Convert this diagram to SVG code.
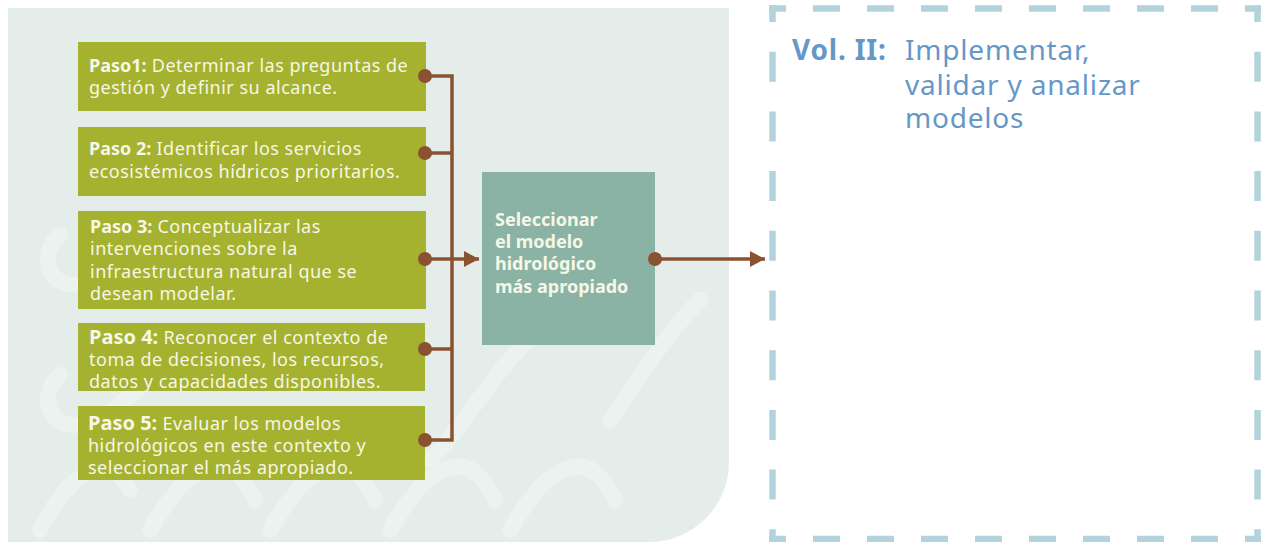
<svg xmlns="http://www.w3.org/2000/svg" width="1261" height="542" viewBox="0 0 1261 542">
  <style>
    .step { fill: #a4b22f; }
    .txt { font-family: "Noto Sans", "Open Sans", sans-serif; font-size: 18px; letter-spacing: 0.5px; fill: #f6f7e6; }
    .b { font-weight: bold; letter-spacing: 0; }
    .big { font-size: 20px; }
    .wire { stroke: #8a5230; stroke-width: 3.5; fill: none; }
    .dot { fill: #8a5230; }
    .dash { stroke: #b3d3dc; stroke-width: 6.5; fill: none; }
    .vol { font-family: "Noto Sans", "Open Sans", sans-serif; fill: #6598c6; font-size: 28px; letter-spacing: 0.8px; }
    .swirl { stroke: #ffffff; stroke-opacity: 0.3; stroke-width: 16; stroke-linecap: round; fill: none; }
  </style>
  <defs>
    <marker id="arrow" markerWidth="16" markerHeight="16" refX="15" refY="8" orient="auto" markerUnits="userSpaceOnUse">
      <path d="M0,0 L15,8 L0,16 Z" fill="#8a5230"/>
    </marker>
    <clipPath id="panelClip">
      <path d="M8,8 H729 V462 A80,80 0 0 1 649,542 H8 Z"/>
    </clipPath>
  </defs>

  <!-- background panel with decorative curls -->
  <g id="panel">
    <path d="M8,8 H729 V462 A80,80 0 0 1 649,542 H8 Z" fill="#e4edea"/>
    <g clip-path="url(#panelClip)">
      <path class="swirl" d="M60,235 C40,250 45,285 75,285 C110,285 130,250 160,230"/>
      <path class="swirl" d="M60,375 C40,390 45,425 75,425 C110,425 130,390 160,370"/>
      <path class="swirl" d="M40,530 C70,470 110,450 130,490"/>
      <path class="swirl" d="M150,530 C190,460 230,445 255,500"/>
      <path class="swirl" d="M270,530 C310,460 350,445 375,500"/>
      <path class="swirl" d="M390,530 C430,460 470,445 495,500"/>
      <path class="swirl" d="M510,530 C550,460 590,445 615,500"/>
      <path class="swirl" d="M430,460 C470,420 500,360 540,330"/>
      <path class="swirl" d="M610,420 C640,380 660,340 700,300"/>
    </g>
  </g>

  <!-- step boxes -->
  <g id="paso1">
    <rect class="step" x="78" y="42" width="348" height="69"/>
    <text class="txt" x="89" y="72"><tspan class="b">Paso1:</tspan> Determinar las preguntas de</text>
    <text class="txt" x="89" y="94">gestión y definir su alcance.</text>
  </g>
  <g id="paso2">
    <rect class="step" x="78" y="127" width="348" height="69"/>
    <text class="txt" x="89" y="155"><tspan class="b">Paso 2:</tspan> Identificar los servicios</text>
    <text class="txt" x="89" y="178">ecosistémicos hídricos prioritarios.</text>
  </g>
  <g id="paso3">
    <rect class="step" x="78" y="211" width="348" height="98"/>
    <text class="txt" x="90" y="233"><tspan class="b">Paso 3:</tspan> Conceptualizar las</text>
    <text class="txt" x="90" y="255">intervenciones sobre la</text>
    <text class="txt" x="90" y="278">infraestructura natural que se</text>
    <text class="txt" x="90" y="300">desean modelar.</text>
  </g>
  <g id="paso4">
    <rect class="step" x="78" y="323" width="347" height="68"/>
    <text class="txt" x="89" y="344"><tspan class="b big">Paso 4:</tspan> Reconocer el contexto de</text>
    <text class="txt" x="89" y="366">toma de decisiones, los recursos,</text>
    <text class="txt" x="89" y="388">datos y capacidades disponibles.</text>
  </g>
  <g id="paso5">
    <rect class="step" x="78" y="406" width="347" height="74"/>
    <text class="txt" x="88" y="430"><tspan class="b big">Paso 5:</tspan> Evaluar los modelos</text>
    <text class="txt" x="88" y="452">hidrológicos en este contexto y</text>
    <text class="txt" x="88" y="474">seleccionar el más apropiado.</text>
  </g>

  <!-- selection box -->
  <g id="seleccionar">
    <rect x="482" y="172" width="173" height="173" fill="#8ab3a5"/>
    <text class="txt b" x="495" y="226" letter-spacing="0.4">Seleccionar</text>
    <text class="txt b" x="495" y="248" letter-spacing="0.4">el modelo</text>
    <text class="txt b" x="495" y="270" letter-spacing="0.4">hidrológico</text>
    <text class="txt b" x="495" y="293" letter-spacing="0.4">más apropiado</text>
  </g>

  <!-- volume II dashed frame -->
  <g id="vol2">
    <line class="dash" x1="769" y1="8.5" x2="1261" y2="8.5" stroke-dasharray="27 27" stroke-dashoffset="10"/>
    <line class="dash" x1="769" y1="539" x2="1261" y2="539" stroke-dasharray="27 27" stroke-dashoffset="10"/>
    <line class="dash" x1="772.5" y1="5" x2="772.5" y2="542" stroke-dasharray="30 29.7" stroke-dashoffset="13"/>
    <line class="dash" x1="1257.5" y1="5" x2="1257.5" y2="542" stroke-dasharray="30 29.7" stroke-dashoffset="13"/>
    <text class="vol" x="792" y="60" font-size="29" font-weight="bold" letter-spacing="0" fill="#5a8fc1">Vol. II:</text>
    <text class="vol" x="905" y="60">Implementar,</text>
    <text class="vol" x="905" y="95">validar y analizar</text>
    <text class="vol" x="905" y="128">modelos</text>
  </g>

  <!-- connectors -->
  <g id="connectors">
    <path class="wire" d="M425,76 H452 V440 H425"/>
    <line class="wire" x1="425" y1="153" x2="452" y2="153"/>
    <line class="wire" x1="425" y1="349" x2="452" y2="349"/>
    <line class="wire" x1="425" y1="259" x2="479" y2="259" marker-end="url(#arrow)"/>
    <line class="wire" x1="655" y1="259" x2="765" y2="259" marker-end="url(#arrow)"/>
    <circle class="dot" cx="425" cy="76" r="7"/>
    <circle class="dot" cx="425" cy="153" r="7"/>
    <circle class="dot" cx="425" cy="259" r="7"/>
    <circle class="dot" cx="425" cy="349" r="7"/>
    <circle class="dot" cx="425" cy="440" r="7"/>
    <circle class="dot" cx="655" cy="259" r="7"/>
  </g>
</svg>
